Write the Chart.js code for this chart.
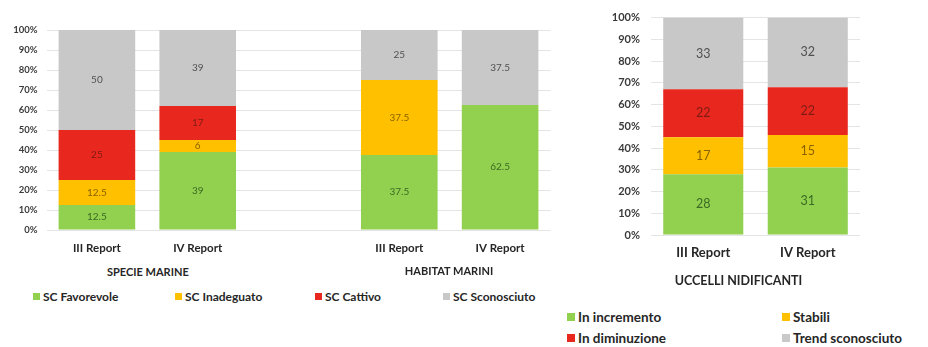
<!DOCTYPE html>
<html>
<head>
<meta charset="utf-8">
<script src="https://cdn.jsdelivr.net/npm/chart.js@4/dist/chart.umd.min.js"></script>
<style>
  body { margin: 0; background: #fff; width: 928px; height: 347px; position: relative; overflow: hidden; font-family: Lato, 'Open Sans', sans-serif; }
  canvas { position: absolute; }
  .txt { position: absolute; font-weight: bold; color: #262626; white-space: nowrap; }
  .sq { display: inline-block; width: 7px; height: 7px; margin-right: 3px; vertical-align: 1px; }
</style>
</head>
<body>
<canvas id="leftChart" width="575" height="262" style="left:0;top:0"></canvas>
<canvas id="rightChart" width="300" height="270" style="left:590px;top:0"></canvas>

<div class="txt" id="groupA" style="font-size:11px;left:107px;top:265px;width:80px;text-align:center"></div>
<div class="txt" id="groupB" style="font-size:11px;left:404px;top:264px;width:90px;text-align:center"></div>
<div class="txt" id="groupC" style="font-size:12.5px;left:657px;top:273px;width:163px;text-align:center"></div>
<div id="legendLeft"></div>
<div id="legendRight"></div>

<script>
// left chart: species and habitats
const leftCategories = ['III Report', 'IV Report', '', 'III Report', 'IV Report'];
const leftGroups = ['SPECIE MARINE', 'HABITAT MARINI'];
const scFavorevole = [12.5, 39, null, 37.5, 62.5];
const scInadeguato = [12.5, 6, null, 37.5, 0];
const scCattivo = [25, 17, null, 0, 0];
const scSconosciuto = [50, 39, null, 25, 37.5];
const leftSeries = ['SC Favorevole', 'SC Inadeguato', 'SC Cattivo', 'SC Sconosciuto'];

// right chart: breeding birds
const rightCategories = ['III Report', 'IV Report'];
const rightTitle = 'UCCELLI NIDIFICANTI';
const inIncremento = [28, 31];
const stabili = [17, 15];
const inDiminuzione = [22, 22];
const trendSconosciuto = [33, 32];
const rightSeries = ['In incremento', 'Stabili', 'In diminuzione', 'Trend sconosciuto'];

const colors = ['#92D050', '#FFC000', '#E8281E', '#C8C8C8'];
const labelColors = ['#3B6A22', '#8A6200', '#7E1C14', '#505050'];

const valueLabels = {
  id: 'valueLabels',
  afterDatasetsDraw(chart, args, opts) {
    const ctx = chart.ctx;
    ctx.save();
    ctx.font = opts.font;
    ctx.textAlign = 'center';
    ctx.textBaseline = 'middle';
    chart.data.datasets.forEach((ds, i) => {
      const meta = chart.getDatasetMeta(i);
      meta.data.forEach((el, j) => {
        const v = ds.data[j];
        if (!v) return;
        const top = Math.max(el.y, chart.chartArea.top);
        ctx.fillStyle = labelColors[i];
        ctx.fillText(String(v), el.x, (top + el.base) / 2);
      });
    });
    ctx.restore();
  }
};

function makeChart(id, labels, data, names, opt) {
  return new Chart(document.getElementById(id), {
    type: 'bar',
    data: {
      labels: labels,
      datasets: data.map((d, i) => ({
        label: names[i],
        data: d,
        backgroundColor: colors[i],
        borderWidth: 0,
        categoryPercentage: 1,
        barPercentage: opt.barPct
      }))
    },
    options: {
      responsive: false,
      animation: false,
      layout: { padding: { top: opt.top, right: opt.right, left: 0, bottom: 0 } },
      plugins: {
        legend: { display: false },
        tooltip: { enabled: false },
        valueLabels: { font: opt.labelFont }
      },
      scales: {
        x: {
          stacked: true,
          grid: { display: false, drawTicks: false },
          border: { display: false },
          ticks: { padding: opt.xPad, color: '#262626', font: { family: 'Lato', size: opt.xSize, weight: 'bold' } },
          afterFit: s => { s.height = opt.xHeight; }
        },
        y: {
          stacked: true,
          min: 0,
          max: 100,
          grid: { color: '#E4E4E4', drawTicks: false },
          border: { display: false },
          ticks: {
            stepSize: 10,
            padding: opt.yPad,
            color: '#3a3a3a',
            font: { family: 'Lato', size: opt.ySize, weight: 'bold' },
            callback: v => v + '%'
          },
          afterFit: s => { s.width = opt.yWidth; }
        }
      }
    },
    plugins: [valueLabels]
  });
}

makeChart('leftChart', leftCategories, [scFavorevole, scInadeguato, scCattivo, scSconosciuto], leftSeries, {
  barPct: 0.76, top: 30, right: 24.5, xPad: 11, xSize: 11.5, xHeight: 32,
  yPad: 9, ySize: 9.5, yWidth: 46.5, labelFont: '10px Lato'
});

makeChart('rightChart', rightCategories, [inIncremento, stabili, inDiminuzione, trendSconosciuto], rightSeries, {
  barPct: 0.766, top: 17, right: 30, xPad: 10, xSize: 13, xHeight: 35,
  yPad: 11, ySize: 11, yWidth: 61, labelFont: '12.5px Lato'
});

document.getElementById('groupA').textContent = leftGroups[0];
document.getElementById('groupB').textContent = leftGroups[1];
document.getElementById('groupC').textContent = rightTitle;

// legends
const leftLegendX = [33, 175, 315, 443];
const legL = document.getElementById('legendLeft');
leftSeries.forEach((name, i) => {
  const d = document.createElement('div');
  d.className = 'txt';
  d.style.cssText = `left:${leftLegendX[i]}px;top:289px;font-size:12px`;
  d.innerHTML = `<span class="sq" style="background:${colors[i]}"></span>${name}`;
  legL.appendChild(d);
});
const rightLegendPos = [[567, 309], [782, 309], [567, 330], [782, 330]];
const legR = document.getElementById('legendRight');
rightSeries.forEach((name, i) => {
  const d = document.createElement('div');
  d.className = 'txt';
  d.style.cssText = `left:${rightLegendPos[i][0]}px;top:${rightLegendPos[i][1]}px;font-size:13.5px`;
  d.innerHTML = `<span class="sq" style="background:${colors[i]};width:8px;height:8px"></span>${name}`;
  legR.appendChild(d);
});
</script>
</body>
</html>
